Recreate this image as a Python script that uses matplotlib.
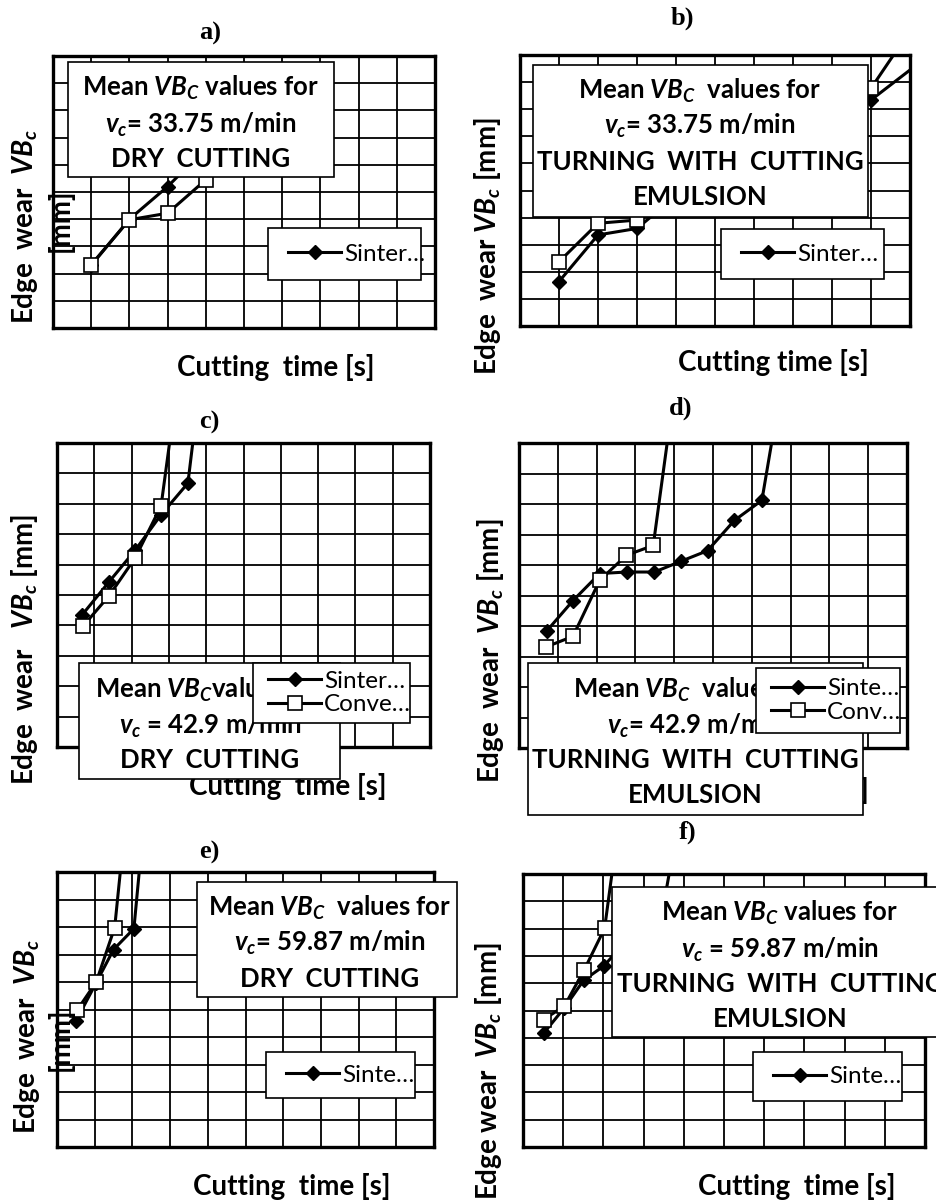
import matplotlib
matplotlib.use('Agg')
import matplotlib.pyplot as plt
from matplotlib.patches import Rectangle

# wear curves (time and wear in grid units)
a_time_sint = [1, 2, 3, 4, 5]
a_wear_sint = [2.3, 4.0, 5.2, 6.6, 8.2]
a_time_conv = [1, 2, 3, 4, 5, 6]
a_wear_conv = [2.33, 3.98, 4.22, 5.45, 7.0, 8.8]

b_time_sint = [1, 2, 3, 4, 5, 6, 7, 8, 9, 10.5]
b_wear_sint = [1.64, 3.36, 3.6, 4.8, 5.6, 6.4, 7.0, 7.7, 8.34, 10.0]
b_time_conv = [1, 2, 3, 4, 5, 6, 7, 8, 9, 10]
b_wear_conv = [2.37, 3.79, 3.91, 5.0, 5.9, 6.7, 7.4, 8.1, 8.77, 10.9]

c_time_sint = [0.67, 1.4, 2.1, 2.79, 3.51, 4.2]
c_wear_sint = [4.34, 5.44, 6.48, 7.64, 8.68, 15.7]
c_time_conv = [0.7, 1.4, 2.1, 2.79, 3.49]
c_wear_conv = [3.98, 4.98, 6.23, 7.93, 14.3]

d_time_sint = [0.71, 1.39, 2.08, 2.78, 3.49, 4.17, 4.86, 5.55, 6.26, 6.95]
d_wear_sint = [3.83, 4.83, 5.72, 5.77, 5.77, 6.12, 6.47, 7.46, 8.12, 13.3]
d_time_conv = [0.69, 1.39, 2.08, 2.77, 3.46, 4.15]
d_wear_conv = [3.31, 3.66, 5.50, 6.32, 6.64, 13.1]

e_time_sint = [0.51, 1.03, 1.5, 2.04, 2.55]
e_wear_sint = [4.6, 5.95, 7.18, 7.94, 15.4]
e_time_conv = [0.53, 1.04, 1.53, 2.04]
e_wear_conv = [4.97, 6.0, 7.98, 14.9]

f_time_sint = [0.51, 1.03, 1.51, 2.02, 2.53, 3.04, 3.55, 4.06]
f_wear_sint = [4.16, 5.1, 6.11, 6.64, 7.5, 8.4, 9.3, 13.5]
f_time_conv = [0.51, 1.03, 1.52, 2.03, 2.54]
f_wear_conv = [4.67, 5.16, 6.48, 8.01, 13.6]

# legend names as Excel cut them in the small legend boxes
names_long = ['Sinter…', 'Conve…']
names_short = ['Sinte…', 'Conv…']

plt.rcParams['font.family'] = ['Lato', 'DejaVu Sans']
plt.rcParams['mathtext.fontset'] = 'custom'
plt.rcParams['mathtext.rm'] = 'Lato:bold'
plt.rcParams['mathtext.it'] = 'Lato:italic:bold'
plt.rcParams['mathtext.bf'] = 'Lato:bold'

W, H = 936, 1202
fig = plt.figure(figsize=(W / 100, H / 100), dpi=100)


def fx(x):
    return x / W


def fy(y):
    return 1 - y / H


def panel(box, ts, ws, tc, wc, names):
    x0, y0, x1, y1 = box
    ax = fig.add_axes([fx(x0), fy(y1), (x1 - x0) / W, (y1 - y0) / H])
    ax.plot(ts, ws, color='black', lw=2.2, marker='D', ms=7.5, mfc='black', mec='black', label=names[0])
    ax.plot(tc, wc, color='black', lw=2.2, marker='s', ms=10, mfc='white', mec='black', mew=1.2, label=names[1])
    ax.set_xlim(0, 10)
    ax.set_ylim(0, 10)
    ax.set_xticks(range(11))
    ax.set_yticks(range(11))
    ax.grid(True, color='black', lw=1.3)
    ax.set_axisbelow(True)
    ax.tick_params(length=0, labelbottom=False, labelleft=False)
    for s in ax.spines.values():
        s.set_linewidth(2.4)
    return ax


def note(box, lines, cx, ys, size=18.5):
    x0, y0, x1, y1 = box
    fig.add_artist(Rectangle((fx(x0), fy(y1)), (x1 - x0) / W, (y1 - y0) / H, transform=fig.transFigure,
                             facecolor='white', edgecolor='black', lw=1.2, zorder=3))
    for s, y in zip(lines, ys):
        fig.text(fx(cx), fy(y), s, ha='center', va='center_baseline', fontsize=size,
                 fontweight='bold', zorder=3.5)


def key(ax, box, n, pad=17, spacing=0.12):
    x0, y0, x1, y1 = box
    fig.add_artist(Rectangle((fx(x0), fy(y1)), (x1 - x0) / W, (y1 - y0) / H, transform=fig.transFigure,
                             facecolor='white', edgecolor='black', lw=1.2, zorder=4))
    hs = ax.get_lines()[:n]
    fig.legend(hs, [h.get_label() for h in hs], loc='center left',
               bbox_to_anchor=(fx(x0 + pad), fy((y0 + y1) / 2)), frameon=False, fontsize=17.5,
               handlelength=2.2, handletextpad=0.1, borderpad=0, borderaxespad=0,
               labelspacing=spacing)


def label(x, y, s, rot=0, size=20):
    fig.text(fx(x), fy(y), s, ha='center', va='center', rotation=rot, fontsize=size,
             fontweight='bold', zorder=1)


def title(x, y, s):
    fig.text(fx(x), fy(y), s, ha='center', va='center', fontsize=19, fontweight='bold',
             family='Liberation Serif')


# a)
ax = panel((53, 56, 435, 328), a_time_sint, a_wear_sint, a_time_conv, a_wear_conv, names_long)
title(210, 33, 'a)')
label(276, 368, 'Cutting  time [s]')
label(25, 226, 'Edge  wear  $VB_c$', 90)
label(60, 220, '[mm]', 90)
note((68, 62, 334, 177), ['Mean $VB_C$ values for', '$v_c$= 33.75 m/min', 'DRY  CUTTING'], 201, [85, 122, 157])
key(ax, (268, 228, 421, 280), 1, pad=20)

# b)
ax = panel((520, 55, 910, 326), b_time_sint, b_wear_sint, b_time_conv, b_wear_conv, names_long)
title(682, 18, 'b)')
label(773, 363, 'Cutting time [s]')
label(487, 246, 'Edge  wear $VB_c$ [mm]', 90)
note((533, 65, 868, 217), ['Mean $VB_C$  values for', '$v_c$= 33.75 m/min', 'TURNING  WITH  CUTTING', 'EMULSION'],
     700, [88, 123, 160, 195])
key(ax, (721, 229, 884, 279), 1, pad=20)

# c)
ax = panel((57, 443, 430, 747), c_time_sint, c_wear_sint, c_time_conv, c_wear_conv, names_long)
title(209, 422, 'c)')
label(288, 787, 'Cutting  time [s]')
label(25, 649, 'Edge  wear   $VB_c$ [mm]', 90)
note((79, 663, 340, 779), ['Mean $VB_C$values for', '$v_c$ = 42.9 m/min', 'DRY  CUTTING'], 210, [687, 723, 758])
key(ax, (253, 663, 410, 723), 2, pad=15)

# d)
ax = panel((519, 443, 907, 748), d_time_sint, d_wear_sint, d_time_conv, d_wear_conv, names_short)
title(681, 408, 'd)')
label(773, 790, 'Cutting time [s]')
label(490, 651, 'Edge  wear  $VB_c$ [mm]', 90)
note((528, 663, 863, 815), ['Mean $VB_C$  values for', '$v_c$= 42.9 m/min', 'TURNING  WITH  CUTTING', 'EMULSION'],
     695, [687, 723, 758, 793])
key(ax, (756, 668, 900, 733), 2, pad=15)

# e)
ax = panel((57, 872, 434, 1147), e_time_sint, e_wear_sint, e_time_conv, e_wear_conv, names_short)
title(209, 852, 'e)')
label(292, 1187, 'Cutting  time [s]')
label(27, 1036, 'Edge  wear  $VB_c$', 90)
label(60, 1039, '[mm]', 90)
note((197, 882, 457, 997), ['Mean $VB_C$  values for', '$v_c$= 59.87 m/min', 'DRY  CUTTING'], 330, [905, 940, 977])
key(ax, (266, 1052, 415, 1098), 1, pad=20)

# f)
ax = panel((523, 874, 925, 1147), f_time_sint, f_wear_sint, f_time_conv, f_wear_conv, names_short)
title(688, 832, 'f)')
label(797, 1187, 'Cutting  time [s]')
label(488, 1071, 'Edge wear  $VB_c$ [mm]', 90)
note((612, 887, 960, 1037), ['Mean $VB_C$ values for', '$v_c$ = 59.87 m/min', 'TURNING  WITH  CUTTING', 'EMULSION'],
     780, [910, 947, 982, 1017])
key(ax, (753, 1052, 902, 1101), 1, pad=20)

fig.savefig('out.png', dpi=100)
